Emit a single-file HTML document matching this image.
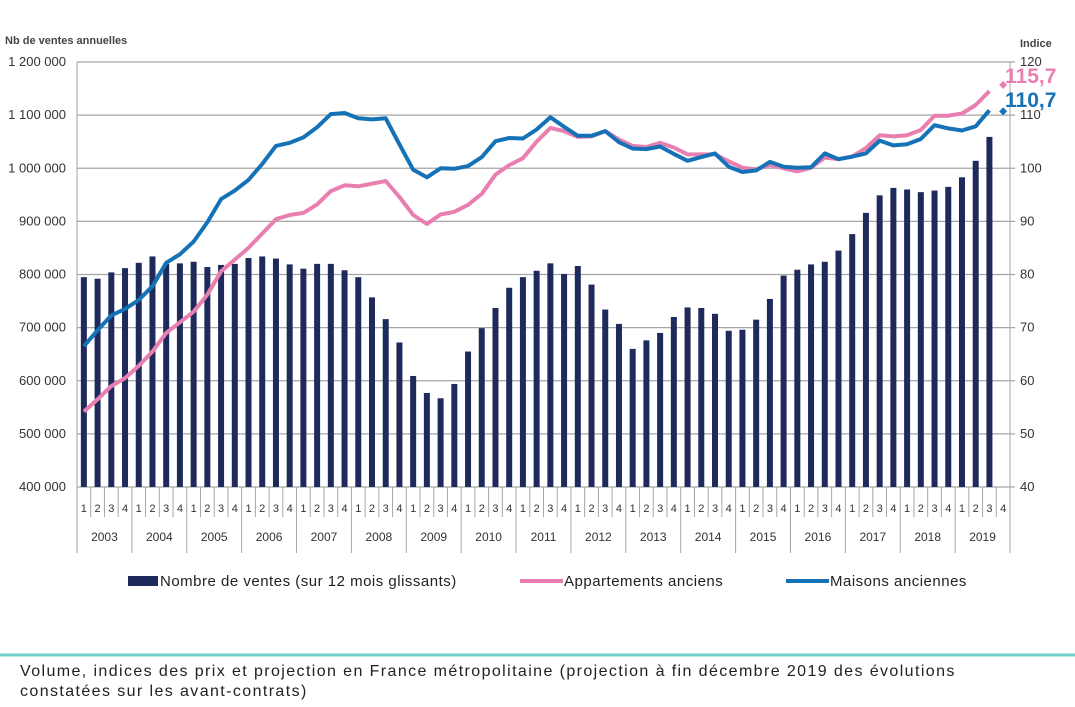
<!DOCTYPE html>
<html><head><meta charset="utf-8">
<style>
body{margin:0;background:#fff;width:1075px;height:707px;overflow:hidden;font-family:"Liberation Sans",sans-serif;}
svg{position:absolute;left:0;top:0}
.cap{position:absolute;left:20px;top:662px;font-size:16px;letter-spacing:1.4px;color:#222;line-height:20px;width:1060px;white-space:nowrap}
</style></head><body>
<svg id="s" width="1075" height="707" xmlns="http://www.w3.org/2000/svg"></svg>
<div class="cap">Volume, indices des prix et projection en France métropolitaine (projection à fin décembre 2019 des évolutions<br>constatées sur les avant-contrats)</div>
<script>
var L=77,R=1010,T=62,B=487,N=68,W=(R-L)/N;
function yv(k){return B-(k-400)*(B-T)/800;}
function yi(i){return B-(i-40)*(B-T)/80;}
var bars=[795,792,804,812,822,834,820,821,824,814,818,820,831,834,830,819,811,820,820,808,795,757,716,672,609,577,567,594,655,699,737,775,795,807,821,801,816,781,734,707,660,676,690,720,738,737,726,694,696,715,754,798,809,819,824,845,876,916,949,963,960,955,958,965,983,1014,1059];
var blue=[66.5,69.5,72.3,73.5,75.2,77.8,82.2,83.8,86.2,89.8,94.2,95.8,97.8,100.8,104.2,104.8,105.8,107.7,110.2,110.4,109.4,109.2,109.4,104.5,99.7,98.3,100,99.9,100.4,102.1,105.1,105.7,105.6,107.3,109.6,107.8,106.1,106.1,107,104.9,103.7,103.6,104.1,102.7,101.4,102.1,102.8,100.3,99.3,99.6,101.2,100.3,100.1,100.2,102.8,101.7,102.2,102.8,105.2,104.3,104.5,105.5,108.1,107.5,107.1,107.9,110.9];
var pink=[54.2,56.5,59,60.5,62.8,65.5,69,71,73,76.2,80.6,82.8,85,87.7,90.4,91.2,91.6,93.2,95.7,96.8,96.6,97.1,97.6,94.6,91.2,89.5,91.3,91.8,93.1,95.2,98.8,100.6,101.9,105,107.6,107,105.9,106,107,105.4,104.2,104,104.8,103.9,102.6,102.6,102.6,101.3,100.1,99.8,100.6,100,99.4,100.1,102,101.7,102.2,103.8,106.2,106,106.2,107.2,109.9,109.9,110.3,111.9,114.5];
var h='';
var lv=['400 000','500 000','600 000','700 000','800 000','900 000','1 000 000','1 100 000','1 200 000'];
for(var j=0;j<=8;j++){var y=yv(400+j*100);
h+='<line x1="'+L+'" x2="'+(R+5)+'" y1="'+y+'" y2="'+y+'" stroke="#a6a6a6" stroke-width="1.3"/>';
h+='<text x="66" y="'+(y+4)+'" font-size="13" text-anchor="end" fill="#333">'+lv[j]+'</text>';
h+='<text x="1020" y="'+(y+4)+'" font-size="13" fill="#333">'+(40+j*10)+'</text>';}
h+='<line x1="'+L+'" x2="'+L+'" y1="'+T+'" y2="'+B+'" stroke="#a6a6a6"/><line x1="'+R+'" x2="'+R+'" y1="'+T+'" y2="'+B+'" stroke="#a6a6a6"/>';
h+='<text x="5" y="44" font-size="11" font-weight="bold" fill="#444">Nb de ventes annuelles</text>';
h+='<text x="1020" y="47" font-size="11" font-weight="bold" fill="#444">Indice</text>';
for(var i=0;i<bars.length;i++){var cx=L+W*(i+0.5),y=yv(bars[i]);
h+='<rect x="'+(cx-3)+'" y="'+y+'" width="6" height="'+(B-y)+'" fill="#1f2a5c"/>';}
for(var i=0;i<N;i++){var cx=L+W*(i+0.5);
h+='<text x="'+cx+'" y="512" font-size="11" text-anchor="middle" fill="#333">'+(i%4+1)+'</text>';
var x=L+W*i;h+='<line x1="'+x+'" x2="'+x+'" y1="'+B+'" y2="'+(i%4==0?553:517)+'" stroke="#a6a6a6"/>';}
h+='<line x1="'+R+'" x2="'+R+'" y1="'+B+'" y2="553" stroke="#a6a6a6"/>';
for(var k=0;k<17;k++){h+='<text x="'+(L+W*(4*k+2))+'" y="541" font-size="12" text-anchor="middle" fill="#333">'+(2003+k)+'</text>';}
function pl(a,c){var p=a.map(function(v,i){return (L+W*(i+0.5)).toFixed(1)+','+yi(v).toFixed(1)}).join(' ');
return '<polyline points="'+p+'" fill="none" stroke="'+c+'" stroke-width="4" stroke-linejoin="round"/>';}
h+=pl(pink,'#e97fb0')+pl(blue,'#1572b6');
var xq=L+W*67.5;
h+='<path d="M'+xq+' '+(yi(115.7)-4)+'l4 4-4 4-4-4z" fill="#e97fb0"/>';
h+='<path d="M'+xq+' '+(yi(110.7)-4)+'l4 4-4 4-4-4z" fill="#1572b6"/>';
h+='<text x="1005" y="83" font-size="21" font-weight="bold" fill="#e97fb0">115,7</text>';
h+='<text x="1005" y="107" font-size="21" font-weight="bold" fill="#1572b6">110,7</text>';
h+='<rect x="128" y="576" width="30" height="10" fill="#1f2a5c"/><text x="160" y="586" font-size="15" letter-spacing="0.5" fill="#222">Nombre de ventes (sur 12 mois glissants)</text>';
h+='<line x1="520" x2="563" y1="581" y2="581" stroke="#e97fb0" stroke-width="4"/><text x="564" y="586" font-size="15" letter-spacing="0.5" fill="#222">Appartements anciens</text>';
h+='<line x1="786" x2="829" y1="581" y2="581" stroke="#1572b6" stroke-width="4"/><text x="830" y="586" font-size="15" letter-spacing="0.5" fill="#222">Maisons anciennes</text>';
h+='<line x1="0" x2="1075" y1="655" y2="655" stroke="#6fd0c6" stroke-width="3"/>';
document.getElementById('s').innerHTML=h;
</script>
</body></html>
